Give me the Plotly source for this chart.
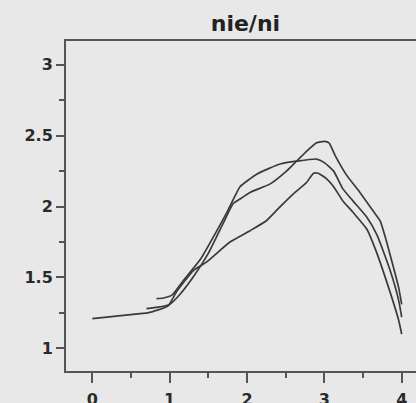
import plotly.graph_objects as go

# Curve (x, nie/ni)
peak_x = [0.70, 0.85, 1.00, 1.10, 1.30, 1.50, 1.69, 1.82, 1.90, 2.04, 2.30, 2.51, 2.64, 2.77, 2.90, 3.00, 3.06, 3.14, 3.29, 3.46, 3.63, 3.72, 3.78, 3.87, 3.96, 4.00]
peak_y = [1.28, 1.29, 1.31, 1.36, 1.50, 1.67, 1.88, 2.02, 2.05, 2.10, 2.16, 2.25, 2.32, 2.39, 2.45, 2.46, 2.45, 2.36, 2.22, 2.10, 1.97, 1.90, 1.80, 1.62, 1.43, 1.31]

bump_x = [0.83, 0.92, 1.03, 1.18, 1.40, 1.60, 1.75, 1.85, 1.91, 2.13, 2.43, 2.64, 2.90, 3.00, 3.12, 3.24, 3.37, 3.55, 3.68, 3.85, 3.96, 4.00]
bump_y = [1.35, 1.355, 1.375, 1.48, 1.63, 1.82, 1.97, 2.08, 2.14, 2.23, 2.30, 2.32, 2.335, 2.31, 2.25, 2.125, 2.04, 1.925, 1.80, 1.55, 1.34, 1.22]

low_x = [0.00, 0.62, 0.72, 0.98, 1.09, 1.31, 1.48, 1.78, 2.04, 2.25, 2.43, 2.60, 2.77, 2.86, 2.92, 3.03, 3.12, 3.24, 3.37, 3.55, 3.68, 3.83, 3.96, 4.00]
low_y = [1.21, 1.245, 1.25, 1.30, 1.40, 1.55, 1.61, 1.75, 1.83, 1.90, 2.00, 2.09, 2.17, 2.235, 2.235, 2.195, 2.14, 2.04, 1.96, 1.84, 1.67, 1.43, 1.20, 1.10]

x_ticks = [0, 1, 2, 3, 4]
y_ticks = [1, 1.5, 2, 2.5, 3]
y_tick_labels = ["1", "1.5", "2", "2.5", "3"]

fig = go.Figure()
for xs, ys in [(peak_x, peak_y), (bump_x, bump_y), (low_x, low_y)]:
    fig.add_trace(go.Scatter(x=xs, y=ys, mode="lines",
                             line=dict(color="#3a3a3a", width=1.7, shape="spline", smoothing=0.5),
                             showlegend=False, hoverinfo="skip"))

font = dict(family="DejaVu Sans, Arial, sans-serif", size=16, color="#2a2a2a")
fig.update_layout(
    width=416, height=403,
    margin=dict(l=66, r=0, t=41, b=32),
    paper_bgcolor="#e8e8e8", plot_bgcolor="#e8e8e8",
    title=dict(text="<b>nie/ni</b>", x=0.59, xanchor="center", y=1 - 23 / 403, yanchor="middle",
               font=dict(family="DejaVu Sans, Arial, sans-serif", size=22, color="#222")),
    font=font,
)
fig.update_xaxes(range=[-0.34, 4.185], tickvals=x_ticks, ticktext=[f"<b>{v}</b>" for v in x_ticks],
                 ticks="outside", ticklen=10, tickwidth=1.8, tickcolor="#555", ticklabelstandoff=3,
                 minor=dict(dtick=0.5, tick0=0, ticks="outside", ticklen=5, tickwidth=1.8, tickcolor="#555"),
                 showline=True, linecolor="#555", linewidth=2, mirror=True, automargin=False,
                 showgrid=False, zeroline=False, tickfont=font)
fig.update_yaxes(range=[0.84, 3.168], tickvals=y_ticks, ticktext=[f"<b>{t}</b>" for t in y_tick_labels],
                 ticks="outside", ticklen=8, tickwidth=1.8, tickcolor="#555",
                 minor=dict(dtick=0.25, tick0=0, ticks="outside", ticklen=5, tickwidth=1.8, tickcolor="#555"),
                 showline=True, linecolor="#555", linewidth=2, mirror=False, automargin=False,
                 showgrid=False, zeroline=False, tickfont=font)

fig.write_html("out.html")
